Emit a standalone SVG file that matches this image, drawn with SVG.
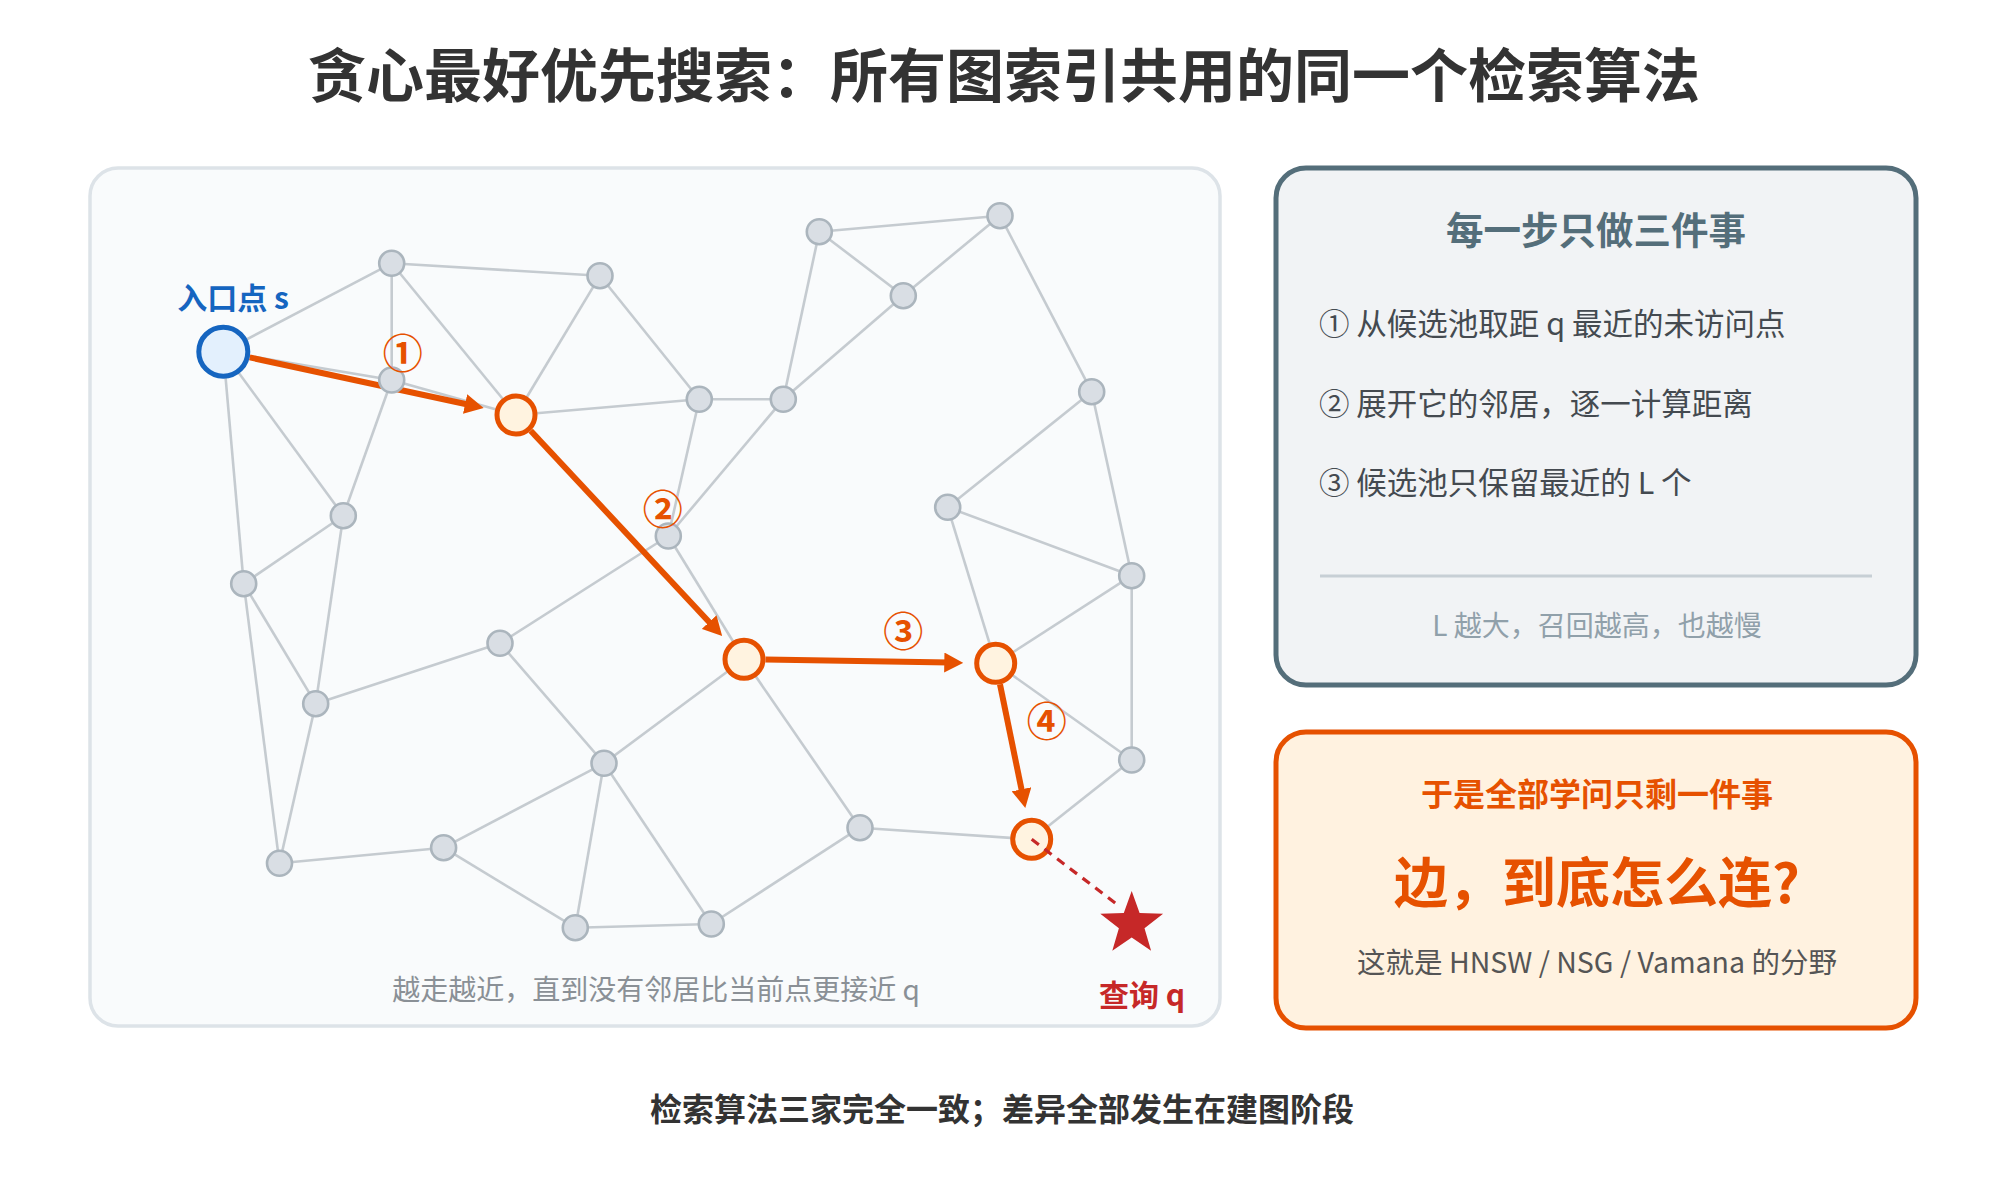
<svg xmlns="http://www.w3.org/2000/svg" width="2000" height="1200" viewBox="0 0 2000 1200">
<style>
  text { font-family: "Noto Sans CJK SC", "Liberation Sans", sans-serif; }
  .edge { stroke: #c5cbd0; stroke-width: 2.6; fill: none; }
  .gn { fill: #d9dee4; stroke: #abb5bd; stroke-width: 2.6; }
  .on { fill: #fff3e0; stroke: #e65100; stroke-width: 5; }
  .arrow { stroke: #e65100; stroke-width: 6; fill: none; marker-end: url(#ah); }
  .num { font-size: 40px; font-weight: bold; fill: #e65100; text-anchor: middle; dominant-baseline: central; }
  .item { font-size: 30.5px; fill: #444a50; }
</style>
<defs>
  <marker id="ah" markerUnits="userSpaceOnUse" markerWidth="19" markerHeight="20" viewBox="0 0 19 20" refX="5" refY="10" orient="auto">
    <path d="M0,0 L19,10 L0,20 z" fill="#e65100"/>
  </marker>
</defs>
<rect width="2000" height="1200" fill="#ffffff"/>

<text x="1004" y="97" font-size="58" font-weight="bold" fill="#333333" text-anchor="middle">贪心最好优先搜索：所有图索引共用的同一个检索算法</text>

<g id="graph-panel">
  <rect x="90" y="168" width="1130" height="858" rx="28" fill="#f9fbfc" stroke="#dde3e8" stroke-width="3.5"/>
</g>

<g id="edges">
  <line class="edge" x1="223.3" y1="351.7" x2="391.7" y2="263.3"/>
  <line class="edge" x1="223.3" y1="351.7" x2="391.7" y2="380"/>
  <line class="edge" x1="223.3" y1="351.7" x2="343.3" y2="515.7"/>
  <line class="edge" x1="223.3" y1="351.7" x2="243.7" y2="583.7"/>
  <line class="edge" x1="391.7" y1="263.3" x2="600" y2="275.7"/>
  <line class="edge" x1="391.7" y1="263.3" x2="391.7" y2="380"/>
  <line class="edge" x1="391.7" y1="263.3" x2="516" y2="415"/>
  <line class="edge" x1="391.7" y1="380" x2="516" y2="415"/>
  <line class="edge" x1="391.7" y1="380" x2="343.3" y2="515.7"/>
  <line class="edge" x1="600" y1="275.7" x2="516" y2="415"/>
  <line class="edge" x1="600" y1="275.7" x2="699.3" y2="399.3"/>
  <line class="edge" x1="516" y1="415" x2="699.3" y2="399.3"/>
  <line class="edge" x1="699.3" y1="399.3" x2="783.3" y2="399.3"/>
  <line class="edge" x1="699.3" y1="399.3" x2="668.3" y2="536"/>
  <line class="edge" x1="783.3" y1="399.3" x2="819.3" y2="231.7"/>
  <line class="edge" x1="783.3" y1="399.3" x2="903.3" y2="295.7"/>
  <line class="edge" x1="783.3" y1="399.3" x2="668.3" y2="536"/>
  <line class="edge" x1="819.3" y1="231.7" x2="1000" y2="215.7"/>
  <line class="edge" x1="819.3" y1="231.7" x2="903.3" y2="295.7"/>
  <line class="edge" x1="1000" y1="215.7" x2="903.3" y2="295.7"/>
  <line class="edge" x1="1000" y1="215.7" x2="1091.7" y2="391.7"/>
  <line class="edge" x1="1091.7" y1="391.7" x2="947.7" y2="507.3"/>
  <line class="edge" x1="1091.7" y1="391.7" x2="1131.7" y2="575.7"/>
  <line class="edge" x1="947.7" y1="507.3" x2="1131.7" y2="575.7"/>
  <line class="edge" x1="947.7" y1="507.3" x2="995.7" y2="663.3"/>
  <line class="edge" x1="1131.7" y1="575.7" x2="995.7" y2="663.3"/>
  <line class="edge" x1="1131.7" y1="575.7" x2="1131.7" y2="760"/>
  <line class="edge" x1="995.7" y1="663.3" x2="1131.7" y2="760"/>
  <line class="edge" x1="1131.7" y1="760" x2="1031.7" y2="839.3"/>
  <line class="edge" x1="860" y1="827.7" x2="1031.7" y2="839.3"/>
  <line class="edge" x1="343.3" y1="515.7" x2="243.7" y2="583.7"/>
  <line class="edge" x1="343.3" y1="515.7" x2="315.7" y2="703.7"/>
  <line class="edge" x1="243.7" y1="583.7" x2="315.7" y2="703.7"/>
  <line class="edge" x1="243.7" y1="583.7" x2="279.5" y2="863.3"/>
  <line class="edge" x1="315.7" y1="703.7" x2="279.5" y2="863.3"/>
  <line class="edge" x1="315.7" y1="703.7" x2="500" y2="643.3"/>
  <line class="edge" x1="500" y1="643.3" x2="668.3" y2="536"/>
  <line class="edge" x1="500" y1="643.3" x2="604" y2="763.3"/>
  <line class="edge" x1="668.3" y1="536" x2="744" y2="659.3"/>
  <line class="edge" x1="744" y1="659.3" x2="604" y2="763.3"/>
  <line class="edge" x1="744" y1="659.3" x2="860" y2="827.7"/>
  <line class="edge" x1="604" y1="763.3" x2="443.6" y2="847.7"/>
  <line class="edge" x1="604" y1="763.3" x2="575.3" y2="927.7"/>
  <line class="edge" x1="604" y1="763.3" x2="711.3" y2="924"/>
  <line class="edge" x1="279.5" y1="863.3" x2="443.6" y2="847.7"/>
  <line class="edge" x1="443.6" y1="847.7" x2="575.3" y2="927.7"/>
  <line class="edge" x1="575.3" y1="927.7" x2="711.3" y2="924"/>
  <line class="edge" x1="711.3" y1="924" x2="860" y2="827.7"/>
</g>

<g id="connectors">
  <line class="arrow" x1="249.7" y1="357.4" x2="470" y2="405"/>
  <line class="arrow" x1="530.7" y1="430.7" x2="712.6" y2="625.7"/>
  <line class="arrow" x1="765.5" y1="659.6" x2="949.3" y2="662.6"/>
  <line class="arrow" x1="1000" y1="684.4" x2="1022.5" y2="794.2"/>
</g>

<g id="nodes">
  <circle class="gn" cx="391.7" cy="263.3" r="12.5"/>
  <circle class="gn" cx="600" cy="275.7" r="12.5"/>
  <circle class="gn" cx="391.7" cy="380" r="12.5"/>
  <circle class="gn" cx="699.3" cy="399.3" r="12.5"/>
  <circle class="gn" cx="783.3" cy="399.3" r="12.5"/>
  <circle class="gn" cx="819.3" cy="231.7" r="12.5"/>
  <circle class="gn" cx="1000" cy="215.7" r="12.5"/>
  <circle class="gn" cx="903.3" cy="295.7" r="12.5"/>
  <circle class="gn" cx="1091.7" cy="391.7" r="12.5"/>
  <circle class="gn" cx="947.7" cy="507.3" r="12.5"/>
  <circle class="gn" cx="1131.7" cy="575.7" r="12.5"/>
  <circle class="gn" cx="343.3" cy="515.7" r="12.5"/>
  <circle class="gn" cx="243.7" cy="583.7" r="12.5"/>
  <circle class="gn" cx="668.3" cy="536" r="12.5"/>
  <circle class="gn" cx="500" cy="643.3" r="12.5"/>
  <circle class="gn" cx="315.7" cy="703.7" r="12.5"/>
  <circle class="gn" cx="604" cy="763.3" r="12.5"/>
  <circle class="gn" cx="1131.7" cy="760" r="12.5"/>
  <circle class="gn" cx="860" cy="827.7" r="12.5"/>
  <circle class="gn" cx="279.5" cy="863.3" r="12.5"/>
  <circle class="gn" cx="443.6" cy="847.7" r="12.5"/>
  <circle class="gn" cx="575.3" cy="927.7" r="12.5"/>
  <circle class="gn" cx="711.3" cy="924" r="12.5"/>
</g>

<g id="path-nodes">
  <circle class="on" cx="516" cy="415" r="19"/>
  <circle class="on" cx="744" cy="659.3" r="19"/>
  <circle class="on" cx="995.7" cy="663.3" r="19"/>
  <circle class="on" cx="1031.7" cy="839.3" r="19"/>
</g>

<g id="entry">
  <circle cx="223.3" cy="351.7" r="24.5" fill="#e3f0fd" stroke="#1565c0" stroke-width="5"/>
  <text x="233" y="309" font-size="30" font-weight="bold" fill="#1565c0" text-anchor="middle">入口点 s</text>
</g>

<g id="query-link">
  <line x1="1031.7" y1="839.3" x2="1120" y2="906.7" stroke="#c62828" stroke-width="3.2" stroke-dasharray="9 7"/>
</g>

<g id="query">
  <polygon points="1131.7,891 1139.6,913.1 1163.1,913.8 1144.5,928.2 1151.1,950.7 1131.7,937.5 1112.3,950.7 1118.9,928.2 1100.3,913.8 1123.8,913.1" fill="#c62828"/>
  <text x="1142" y="1006" font-size="30" font-weight="bold" fill="#c62828" text-anchor="middle">查询 q</text>
</g>

<g id="step-labels">
  <text class="num" x="402.7" y="351">①</text>
  <text class="num" x="662.7" y="506.7">②</text>
  <text class="num" x="903.3" y="629.3">③</text>
  <text class="num" x="1046.7" y="719.3">④</text>
</g>

<text x="656" y="1000" font-size="28" fill="#8a9096" text-anchor="middle">越走越近，直到没有邻居比当前点更接近 q</text>

<g id="steps-panel">
  <rect x="1276" y="168" width="640" height="517" rx="30" fill="#f1f3f5" stroke="#546e7a" stroke-width="5"/>
  <text x="1596" y="244" font-size="37.5" font-weight="bold" fill="#546e7a" text-anchor="middle">每一步只做三件事</text>
  <text class="item" x="1319" y="335">① 从候选池取距 q 最近的未访问点</text>
  <text class="item" x="1319" y="415">② 展开它的邻居，逐一计算距离</text>
  <text class="item" x="1319" y="494">③ 候选池只保留最近的 L 个</text>
  <line x1="1320" y1="576" x2="1872" y2="576" stroke="#c7cfd5" stroke-width="3"/>
  <text x="1597" y="636" font-size="28" fill="#90a0aa" text-anchor="middle">L 越大，召回越高，也越慢</text>
</g>

<g id="conclusion-panel">
  <rect x="1276" y="732" width="640" height="296" rx="30" fill="#fff2e0" stroke="#e65100" stroke-width="5"/>
  <text x="1597" y="806" font-size="32" font-weight="bold" fill="#e65100" text-anchor="middle">于是全部学问只剩一件事</text>
  <text x="1597" y="903" font-size="54" font-weight="bold" fill="#e65100" text-anchor="middle">边，到底怎么连?</text>
  <text x="1597" y="973" font-size="28.5" fill="#555555" text-anchor="middle">这就是 HNSW / NSG / Vamana 的分野</text>
</g>

<text x="1002" y="1121" font-size="32" font-weight="bold" fill="#333333" text-anchor="middle">检索算法三家完全一致；差异全部发生在建图阶段</text>
</svg>
